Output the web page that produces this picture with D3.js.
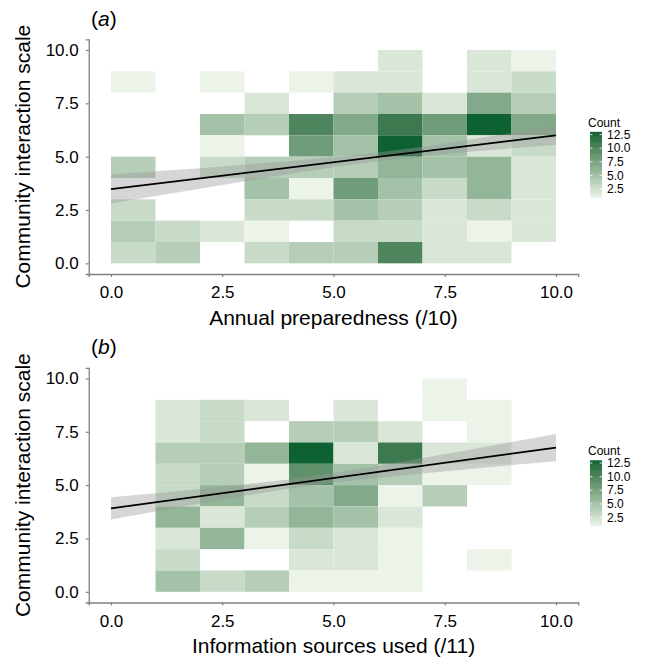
<!DOCTYPE html>
<html>
<head>
<meta charset="utf-8">
<script src="https://cdn.jsdelivr.net/npm/d3@7"></script>
<style>
  body { margin: 0; background: #fff; }
  svg { display: block; font-family: "Liberation Sans", Arial, sans-serif; }
</style>
</head>
<body>
<div id="figure"><svg></svg></div>
<script>
// Tick values and legend breaks
var axisTicks = [0, 2.5, 5, 7.5, 10];
var legendBreaks = [2.5, 5, 7.5, 10, 12.5];

// Bin counts, one row per y bin (top row is 9-10, bottom row is 0-1), columns are x bins 0-1 ... 9-10
var countsA = [
  [0, 0, 0, 0, 0, 0, 2, 0, 2, 1],
  [1, 0, 1, 0, 1, 2, 2, 0, 2, 3],
  [0, 0, 0, 2, 0, 4, 5, 2, 7, 4],
  [0, 0, 5, 4, 10, 7, 11, 8, 13, 7],
  [0, 0, 1, 0, 8, 5, 13, 5, 2, 3],
  [4, 0, 3, 4, 4, 4, 6, 5, 6, 2],
  [0, 0, 0, 5, 1, 8, 5, 3, 6, 2],
  [3, 0, 0, 3, 3, 5, 4, 2, 3, 2],
  [4, 3, 2, 1, 0, 3, 3, 2, 1, 2],
  [3, 4, 0, 3, 4, 4, 10, 2, 2, 0]
];
var countsB = [
  [0, 0, 0, 0, 0, 0, 0, 1, 0, 0],
  [0, 2, 3, 2, 0, 2, 0, 1, 1, 0],
  [0, 2, 3, 0, 4, 4, 2, 0, 1, 0],
  [0, 4, 4, 6, 13, 2, 11, 2, 2, 0],
  [0, 3, 4, 1, 9, 5, 4, 1, 1, 0],
  [0, 3, 6, 3, 5, 7, 1, 4, 0, 0],
  [0, 6, 2, 4, 6, 5, 2, 0, 0, 0],
  [0, 2, 6, 1, 3, 2, 1, 0, 0, 0],
  [0, 3, 0, 0, 2, 2, 1, 0, 1, 0],
  [0, 5, 3, 4, 1, 1, 1, 0, 0, 0]
];

// Fitted lines (ends) and confidence band
var lineX = [0, 10];
var lineA = [3.48, 6.0];
var lineB = [3.91, 6.76];
var bandX = [0, 1, 2, 3, 4, 5, 6, 7, 8, 9, 10];
var bandALow = [2.80, 3.15, 3.50, 3.85, 4.19, 4.50, 4.79, 5.02, 5.22, 5.39, 5.55];
var bandAHigh = [4.16, 4.31, 4.46, 4.63, 4.79, 4.98, 5.19, 5.46, 5.78, 6.11, 6.45];
var bandBLow = [3.39, 3.77, 4.14, 4.50, 4.83, 5.11, 5.34, 5.55, 5.75, 5.94, 6.12];
var bandBHigh = [4.43, 4.62, 4.82, 5.04, 5.27, 5.57, 5.90, 6.27, 6.64, 7.02, 7.40];

// Layout
var width = 646;
var height = 658;
var panelShift = 328.5; // vertical distance between the two panels
var fmt = d3.format(".1f");

var svg = d3.select("#figure").select("svg")
  .attr("width", width).attr("height", height);

var x = d3.scaleLinear().domain([-0.5, 10.5]).range([88.75, 578.25]);
var fill = d3.scaleLinear().domain([1, 13])
  .range(["#ecf4e9", "#0e6232"]).interpolate(d3.interpolateLab);

drawPanel(0, countsA, lineA, bandALow, bandAHigh, "Annual preparedness (/10)", "a");
drawPanel(panelShift, countsB, lineB, bandBLow, bandBHigh, "Information sources used (/11)", "b");

// One 2d-bin panel with its smooth, axes and colour bar
function drawPanel(dy, counts, line, low, high, xlabel, tag) {
  var y = d3.scaleLinear().domain([-0.5, 10.5]).range([274 + dy, 39.3 + dy]);
  var g = svg.append("g");

  // tiles
  var cells = [];
  counts.forEach(function (row, r) {
    row.forEach(function (c, i) {
      if (c > 0) cells.push({ x: i, y: 9 - r, n: c });
    });
  });
  g.selectAll("rect.tile").data(cells).enter()
    .append("rect")
    .attr("class", "tile")
    .attr("x", function (d) { return x(d.x); })
    .attr("y", function (d) { return y(d.y + 1); })
    .attr("width", function (d) { return x(d.x + 1) - x(d.x); })
    .attr("height", function (d) { return y(d.y) - y(d.y + 1); })
    .attr("fill", function (d) { return fill(d.n); });

  // confidence band
  var band = bandX.map(function (v, i) { return { x: v, lo: low[i], hi: high[i] }; });
  g.append("path").datum(band)
    .attr("fill", "#999999").attr("fill-opacity", 0.4)
    .attr("d", d3.area()
      .x(function (d) { return x(d.x); })
      .y0(function (d) { return y(d.lo); })
      .y1(function (d) { return y(d.hi); }));

  // fitted line
  var pts = lineX.map(function (v, i) { return { x: v, y: line[i] }; });
  g.append("path").datum(pts)
    .attr("fill", "none").attr("stroke", "#000").attr("stroke-width", 1.8)
    .attr("d", d3.line()
      .x(function (d) { return x(d.x); })
      .y(function (d) { return y(d.y); }));

  // axes
  var ax = g.append("g").attr("transform", "translate(0," + (274 + dy) + ")")
    .call(d3.axisBottom(x).tickValues(axisTicks).tickFormat(fmt).tickSize(3).tickPadding(9));
  var ay = g.append("g").attr("transform", "translate(88.75,0)")
    .call(d3.axisLeft(y).tickValues(axisTicks).tickFormat(fmt).tickSize(3).tickPadding(7));
  [ax, ay].forEach(function (a) {
    a.select(".domain").attr("stroke", "#808080").attr("stroke-width", 1.3);
    a.selectAll(".tick line").attr("stroke", "#808080").attr("stroke-width", 1.2);
    a.selectAll(".tick text").attr("fill", "#000").style("font-size", "17px")
      .style("font-family", "'Liberation Sans', Arial, sans-serif");
  });

  // titles
  g.append("text")
    .attr("x", (88.75 + 578.25) / 2).attr("y", 324.5 + dy)
    .attr("text-anchor", "middle").style("font-size", "21px")
    .text(xlabel);
  g.append("text")
    .attr("transform", "translate(30," + ((274 + 39.3) / 2 + dy) + ") rotate(-90)")
    .attr("text-anchor", "middle").style("font-size", "21px")
    .text("Community interaction scale");
  var t = g.append("text").attr("x", 91).attr("y", 25.5 + dy).style("font-size", "21px");
  t.append("tspan").text("(");
  t.append("tspan").style("font-style", "italic").text(tag);
  t.append("tspan").text(")");

  // colour bar legend
  var ly = d3.scaleLinear().domain([1, 13]).range([197.2 + dy, 131.8 + dy]);
  var steps = d3.range(1, 13, 0.1);
  g.append("text").attr("x", 588).attr("y", 126.5 + dy)
    .style("font-size", "12px").text("Count");
  g.selectAll("rect.key").data(steps).enter()
    .append("rect").attr("class", "key")
    .attr("x", 590).attr("width", 12)
    .attr("y", function (d) { return ly(Math.min(d + 0.1, 13)); })
    .attr("height", function (d) { return ly(d) - ly(Math.min(d + 0.1, 13)) + 0.5; })
    .attr("fill", function (d) { return fill(d + 0.05); });
  legendBreaks.forEach(function (b) {
    g.append("line").attr("x1", 590).attr("x2", 592.4)
      .attr("y1", ly(b)).attr("y2", ly(b)).attr("stroke", "#fff").attr("stroke-width", 0.8);
    g.append("line").attr("x1", 599.6).attr("x2", 602)
      .attr("y1", ly(b)).attr("y2", ly(b)).attr("stroke", "#fff").attr("stroke-width", 0.8);
    g.append("text").attr("x", 607).attr("y", ly(b)).attr("dy", "0.35em")
      .style("font-size", "12px").text(fmt(b));
  });
}
</script>
</body>
</html>
